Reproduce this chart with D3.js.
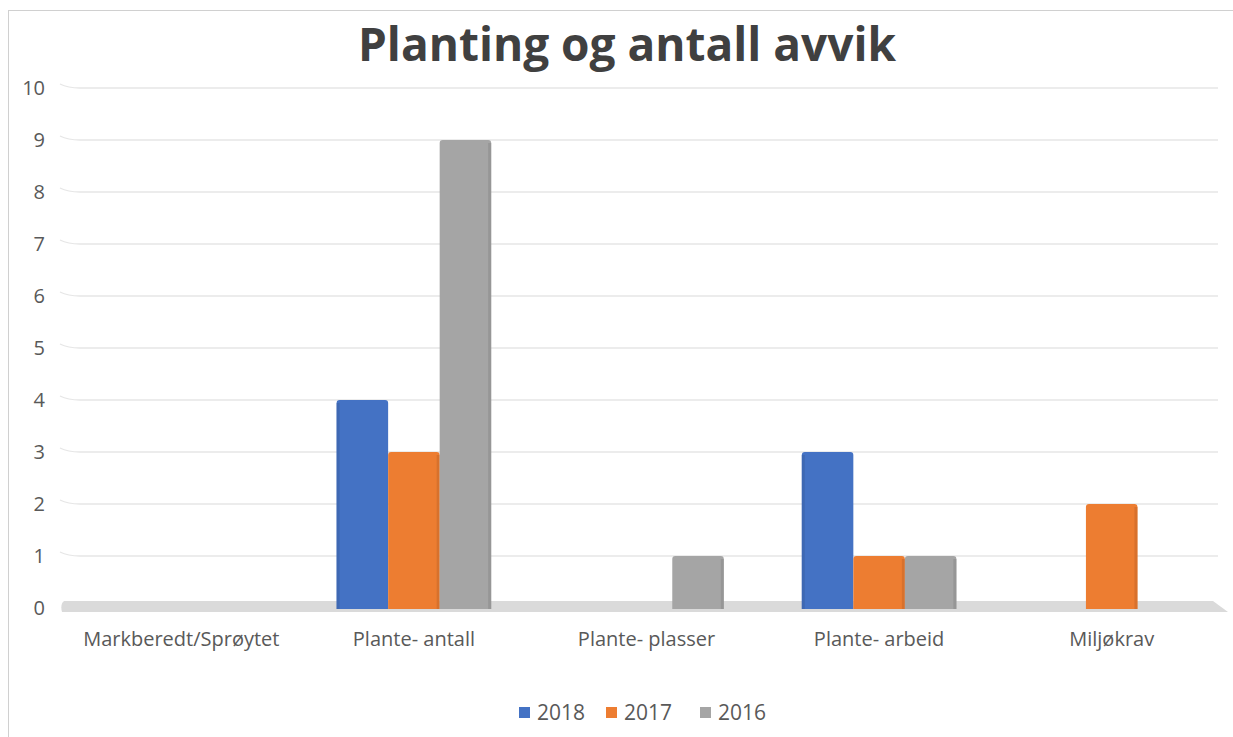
<!DOCTYPE html>
<html>
<head>
<meta charset="utf-8">
<script src="https://cdn.jsdelivr.net/npm/d3@7"></script>
<style>
  body { margin: 0; background: #fff; }
  text { font-family: "Open Sans", "Noto Sans", sans-serif; }
</style>
</head>
<body>
<div id="chart"></div>
<script>
const width = 1233, height = 737;

// data
const categories = ["Markberedt/Sprøytet", "Plante- antall", "Plante- plasser", "Plante- arbeid", "Miljøkrav"];
const years = ["2018", "2017", "2016"];
const values2018 = [0, 4, 0, 3, 0];
const values2017 = [0, 3, 0, 1, 2];
const values2016 = [0, 9, 1, 1, 0];
const yTicks = [0, 1, 2, 3, 4, 5, 6, 7, 8, 9, 10];
const colors = ["#4472C4", "#ED7D31", "#A5A5A5"];
const sides = ["#3a62a8", "#c9692a", "#8c8c8c"];

const seriesValues = [values2018, values2017, values2016];

var svg = d3.select("#chart").append("svg")
    .attr("width", width)
    .attr("height", height);

// frame
svg.append("rect")
    .attr("x", 8.5).attr("y", 10.5)
    .attr("width", 1240).attr("height", 760)
    .attr("fill", "#fff")
    .attr("stroke", "#d0d0d0");

var x = d3.scaleBand().domain(categories).range([65, 1228]);
var x1 = d3.scaleBand().domain(years).range([39, x.bandwidth() - 39]);
var y = d3.scaleLinear().domain([0, 10]).range([608, 88]);

// gridlines with slight perspective bend on the left
svg.append("g")
    .selectAll("path")
    .data(yTicks.filter(d => d > 0))
    .join("path")
    .attr("d", d => "M60," + (y(d) - 4) + " Q68," + y(d) + " 80," + y(d) + " L1218," + y(d))
    .attr("fill", "none")
    .attr("stroke", "#e6e6e6")
    .attr("stroke-width", 1.3);

// floor
svg.append("path")
    .attr("d", "M64,601 L1213,601 L1228,612 L62,612 Q60,604 64,601 Z")
    .attr("fill", "#dadada");

// y axis
var yAxis = svg.append("g")
    .attr("transform", "translate(45,0)")
    .call(d3.axisLeft(y).tickValues(yTicks).tickSize(0).tickPadding(0));
yAxis.select(".domain").remove();
yAxis.selectAll("text")
    .attr("fill", "#595959")
    .style("font-size", "20px");

// x axis labels
var xAxis = svg.append("g")
    .attr("transform", "translate(0,608)")
    .call(d3.axisBottom(x).tickSize(0).tickPadding(24));
xAxis.select(".domain").remove();
xAxis.selectAll("text")
    .attr("fill", "#595959")
    .style("font-size", "20px");

// bars
var rows = [];
categories.forEach(function (c, i) {
    years.forEach(function (yr, j) {
        rows.push({ cat: c, year: yr, idx: j, value: seriesValues[j][i] });
    });
});

var bars = svg.append("g")
    .selectAll("g")
    .data(rows.filter(d => d.value > 0))
    .join("g")
    .attr("transform", d => "translate(" + (x(d.cat) + x1(d.year)) + ",0)");

bars.append("path")
    .attr("d", function (d) {
        var w = x1.bandwidth(), t = y(d.value), b = y(0) + 1, r = 3;
        return "M0," + b + " L0," + (t + r) + " Q0," + t + " " + r + "," + t +
            " L" + (w - r) + "," + t + " Q" + w + "," + t + " " + w + "," + (t + r) +
            " L" + w + "," + b + " Z";
    })
    .attr("fill", d => colors[d.idx]);

// darker side strip for the 3D look
bars.append("rect")
    .attr("x", d => d.idx === 0 ? 0 : x1.bandwidth() - 3)
    .attr("y", d => y(d.value) + 3)
    .attr("width", 3)
    .attr("height", d => y(0) - y(d.value) - 2)
    .attr("fill", d => sides[d.idx])
    .attr("opacity", 0.6);

// title
svg.append("text")
    .attr("x", 627)
    .attr("y", 61)
    .attr("text-anchor", "middle")
    .attr("fill", "#404040")
    .style("font-size", "46px")
    .style("font-weight", "bold")
    .text("Planting og antall avvik");

// legend
var legend = svg.append("g")
    .selectAll("g")
    .data(years)
    .join("g")
    .attr("transform", (d, i) => "translate(" + [519, 606, 700][i] + ",713)");

legend.append("rect")
    .attr("x", 0).attr("y", -6)
    .attr("width", 11).attr("height", 11)
    .attr("fill", (d, i) => colors[i]);

legend.append("text")
    .attr("x", 18)
    .attr("y", 7)
    .attr("fill", "#595959")
    .style("font-size", "21px")
    .text(d => d);
</script>
</body>
</html>
